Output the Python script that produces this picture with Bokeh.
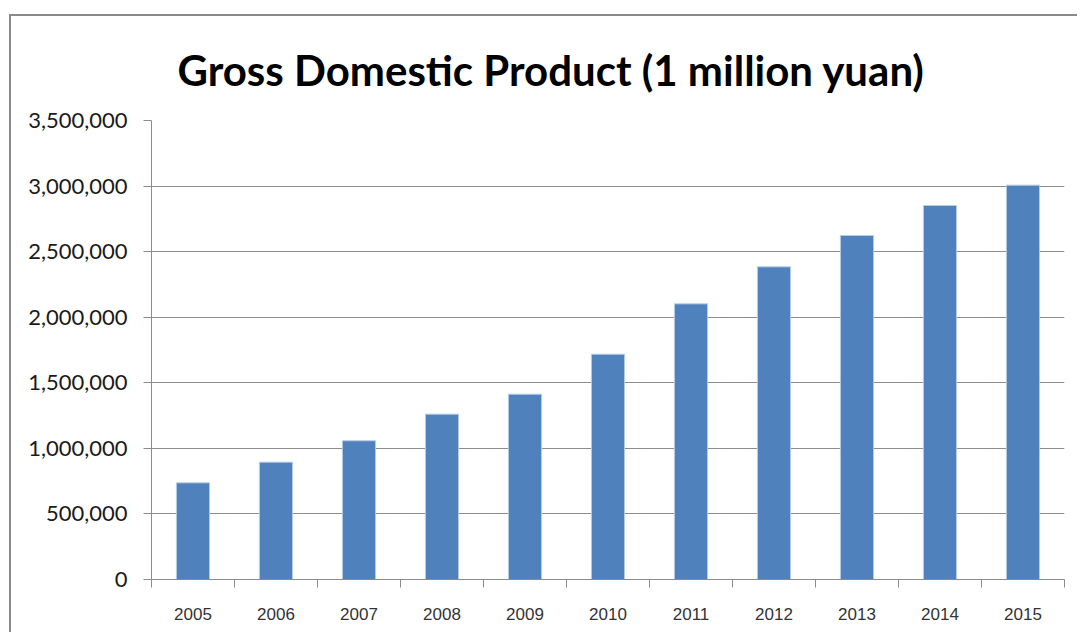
from bokeh.plotting import figure
from bokeh.models import Range1d, FixedTicker, NumeralTickFormatter, Title
from bokeh.embed import file_html
from bokeh.resources import INLINE

years = [2005, 2006, 2007, 2008, 2009, 2010, 2011, 2012, 2013, 2014, 2015]
gdp = [737000, 895000, 1058000, 1261000, 1413000, 1718000, 2102000, 2384000, 2623000, 2852000, 3007000]
y_ticks = [0, 500000, 1000000, 1500000, 2000000, 2500000, 3000000, 3500000]
title_text = "Gross Domestic Product (1 million yuan)"

p = figure(width=1068, height=618, output_backend="svg", toolbar_location=None,
           x_range=Range1d(years[0] - 0.5, years[-1] + 0.5),
           y_range=Range1d(0, 3500000),
           min_border_left=140, min_border_right=15, min_border_top=104, min_border_bottom=55)
p.styles = {"border-left": "2px solid #8a8a8a", "border-top": "2px solid #8a8a8a"}
p.margin = (14, 0, 0, 9)

t = Title(text=title_text, align="left", offset=26, text_font="Lato", text_font_size="42px",
          text_font_style="bold", text_color="#000000", standoff=47, vertical_align="top")
p.add_layout(t, "above")

p.vbar(x=years, top=gdp, width=0.4, fill_color="#4F81BD", line_color="#b8cce4", line_width=1)

p.outline_line_color = None
p.background_fill_color = "white"
p.border_fill_color = "white"

p.xgrid.grid_line_color = None
p.ygrid.grid_line_color = "#8c8c8c"
p.ygrid.grid_line_width = 1

yax = p.yaxis[0]
yax.ticker = FixedTicker(ticks=y_ticks)
yax.formatter = NumeralTickFormatter(format="0,0")
yax.axis_line_color = "#8c8c8c"
yax.major_tick_line_color = "#8c8c8c"
yax.major_tick_out = 8
yax.major_tick_in = 0
yax.minor_tick_line_color = None
yax.major_label_text_font = "Lato"
yax.major_label_text_font_size = "22px"
yax.major_label_text_color = "#1a1a1a"
yax.major_label_standoff = 16

xax = p.xaxis[0]
xax.ticker = FixedTicker(ticks=years, minor_ticks=[y - 0.5 for y in years] + [years[-1] + 0.5])
xax.axis_line_color = "#8c8c8c"
xax.major_tick_line_color = None
xax.major_tick_out = 0
xax.major_tick_in = 0
xax.minor_tick_line_color = "#8c8c8c"
xax.minor_tick_out = 8
xax.minor_tick_in = 0
xax.major_label_text_font = "Liberation Sans"
xax.major_label_text_font_size = "17px"
xax.major_label_text_color = "#333333"
xax.major_label_standoff = 20

open("out.html", "w").write(file_html(p, INLINE))
